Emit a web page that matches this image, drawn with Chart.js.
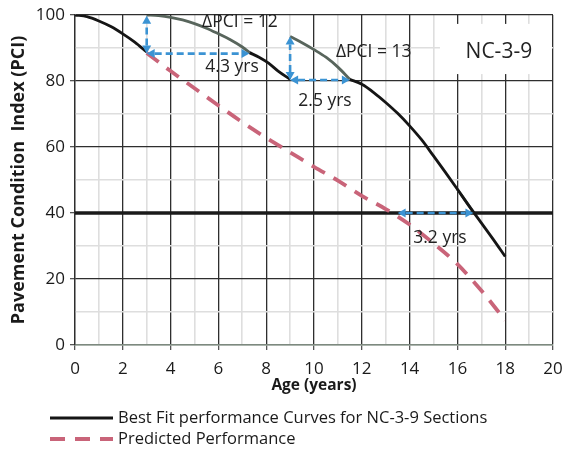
<!DOCTYPE html>
<html>
<head>
<meta charset="utf-8">
<title>NC-3-9 Pavement Condition</title>
<script src="https://cdn.jsdelivr.net/npm/chart.js@4.4.1/dist/chart.umd.min.js"></script>
<style>
  html, body { margin: 0; padding: 0; background: #fff; }
  #chartBox { width: 564px; height: 449px; }
</style>
</head>
<body>
<div id="chartBox"><canvas id="pciChart"></canvas></div>
<script>
// Best fit curve, broken where the treatment resets it (null = gap)
const bestFitAge = [0, 0.5, 1, 1.5, 2, 2.5, 3, 3, 7.3, 7.7, 8.1, 8.5, 9, 9, 11.5, 12, 12.5, 13, 13.5, 14, 14.5, 15, 15.5, 16, 16.5, 17, 17.5, 18];
const bestFitPci = [100, 99.5, 98.2, 96.5, 94.3, 91.8, 88.8, null, 88.6, 87.2, 85.4, 83, 80.5, null, 80.5, 79, 76.5, 73.5, 70.2, 66.4, 62.2, 57.3, 52.3, 47.2, 42, 37, 32, 26.8];

// Shifted portions of the curve after each treatment
const shiftedAge = [3, 3.5, 4, 4.5, 5, 5.5, 6, 6.5, 7, 7.3, 7.3, 9, 9.5, 10, 10.5, 11, 11.5, 11.5, 16, 16.33, 16.67];
const shiftedPci = [100, 99.8, 99.3, 98.5, 97.4, 96, 94.3, 92.5, 90.3, 88.6, null, 93.5, 91.6, 89.5, 87.2, 84.2, 80.5, null, 47.2, 43.8, 40.3];

const predictedAge = [3, 4, 5, 6, 7, 8, 9, 10, 11, 12, 13, 14, 15, 16, 17, 18];
const predictedPci = [88.5, 83, 77.8, 72.6, 67.5, 62.8, 58.4, 54, 49.8, 45.2, 41.2, 36.5, 30.8, 24.5, 16.5, 7.5];

const thresholdAge = [0, 20];
const thresholdPci = [40, 40];

// [age1, pci1, age2, pci2] for each double-headed arrow
const gainArrows = [
    [3, 88.3, 3, 99.8],
    [3, 88.3, 7.3, 88.3],
    [9, 80.3, 9, 93.5],
    [9, 80.3, 11.5, 80.3],
    [13.5, 40, 16.67, 40]
];

const noteText = ['\u0394PCI = 12', '4.3 yrs', '\u0394PCI = 13', '2.5 yrs', '3.2 yrs'];
const noteAge = [6.9, 6.57, 12.5, 10.46, 15.27];
const notePci = [97.9, 84.2, 88.75, 73.9, 32.5];

const sectionName = 'NC-3-9';
const sectionBoxAge = [15.27, 20];
const sectionBoxPci = [82.1, 97.3];

const legendLabels = ['Best Fit performance Curves for NC-3-9 Sections', 'Predicted Performance'];

function toPoints(xs, ys) {
    return xs.map(function (x, i) { return { x: x, y: ys[i] }; });
}

function drawArrow(ctx, x1, y1, x2, y2) {
    const ang = Math.atan2(y2 - y1, x2 - x1);
    const head = 8;
    const half = 4.5;
    const cos = Math.cos(ang), sin = Math.sin(ang);
    ctx.setLineDash([7, 4]);
    ctx.beginPath();
    ctx.moveTo(x1 + cos * head, y1 + sin * head);
    ctx.lineTo(x2 - cos * head, y2 - sin * head);
    ctx.stroke();
    ctx.setLineDash([]);
    [[x2, y2, cos, sin], [x1, y1, -cos, -sin]].forEach(function (h) {
        const px = h[0], py = h[1], c = h[2], s = h[3];
        ctx.beginPath();
        ctx.moveTo(px, py);
        ctx.lineTo(px - head * c + half * s, py - head * s - half * c);
        ctx.lineTo(px - head * c - half * s, py - head * s + half * c);
        ctx.closePath();
        ctx.fill();
    });
}

const pciExtras = {
    id: 'pciExtras',
    beforeDatasetsDraw: function (chart) {
        const ctx = chart.ctx;
        const xs = chart.scales.x, ys = chart.scales.y;
        // white panel behind the section name
        const left = xs.getPixelForValue(sectionBoxAge[0]);
        const right = xs.getPixelForValue(sectionBoxAge[1]) - 1;
        const top = ys.getPixelForValue(sectionBoxPci[1]);
        const bottom = ys.getPixelForValue(sectionBoxPci[0]);
        ctx.save();
        ctx.fillStyle = '#ffffff';
        ctx.fillRect(left, top, right - left, bottom - top);
        ctx.restore();
    },
    afterDatasetsDraw: function (chart) {
        const ctx = chart.ctx;
        const xs = chart.scales.x, ys = chart.scales.y;
        ctx.save();
        ctx.strokeStyle = '#3b93d3';
        ctx.fillStyle = '#3b93d3';
        ctx.lineWidth = 2.6;
        gainArrows.forEach(function (a) {
            drawArrow(ctx,
                xs.getPixelForValue(a[0]), ys.getPixelForValue(a[1]),
                xs.getPixelForValue(a[2]), ys.getPixelForValue(a[3]));
        });

        ctx.fillStyle = '#222222';
        ctx.textAlign = 'center';
        ctx.textBaseline = 'middle';
        ctx.font = '17.5px "Open Sans"';
        noteText.forEach(function (t, i) {
            ctx.fillText(t, xs.getPixelForValue(noteAge[i]), ys.getPixelForValue(notePci[i]));
        });

        ctx.font = '21px "Open Sans"';
        ctx.fillText(sectionName,
            xs.getPixelForValue((sectionBoxAge[0] + sectionBoxAge[1]) / 2 + 0.1),
            ys.getPixelForValue((sectionBoxPci[0] + sectionBoxPci[1]) / 2 - 1));
        ctx.restore();
    },
    afterDraw: function (chart) {
        const ctx = chart.ctx;
        const area = chart.chartArea;
        ctx.save();
        ctx.font = '16.5px "Open Sans"';
        ctx.textBaseline = 'middle';
        ctx.textAlign = 'left';
        legendLabels.forEach(function (label, i) {
            const ds = chart.data.datasets.find(function (d) { return d.label === label; });
            const y = area.bottom + 73 + i * 21;
            ctx.strokeStyle = ds.borderColor;
            ctx.lineWidth = ds.borderWidth;
            ctx.setLineDash(ds.borderDash || []);
            ctx.beginPath();
            ctx.moveTo(50, y);
            ctx.lineTo(113, y);
            ctx.stroke();
            ctx.setLineDash([]);
            ctx.fillStyle = '#1a1a1a';
            ctx.fillText(label, 118, y);
        });
        ctx.restore();
    }
};

document.addEventListener('DOMContentLoaded', function () {
    const ctx = document.getElementById('pciChart').getContext('2d');
    const pciChart = new Chart(ctx, {
        type: 'line',
        data: {
            datasets: [{
                    label: legendLabels[0],
                    data: toPoints(bestFitAge, bestFitPci),
                    borderColor: '#151515',
                    borderWidth: 2.8,
                    pointRadius: 0,
                    cubicInterpolationMode: 'monotone',
                    spanGaps: false,
                    fill: false
                }, {
                    label: 'Shifted curve',
                    data: toPoints(shiftedAge, shiftedPci),
                    borderColor: '#58655c',
                    borderWidth: 2.8,
                    pointRadius: 0,
                    cubicInterpolationMode: 'monotone',
                    spanGaps: false,
                    fill: false
                }, {
                    label: legendLabels[1],
                    data: toPoints(predictedAge, predictedPci),
                    borderColor: '#c96479',
                    borderWidth: 3.8,
                    borderDash: [15, 10],
                    pointRadius: 0,
                    cubicInterpolationMode: 'monotone',
                    fill: false
                }, {
                    label: 'PCI 40',
                    data: toPoints(thresholdAge, thresholdPci),
                    borderColor: '#1a1a1a',
                    borderWidth: 3.5,
                    pointRadius: 0,
                    fill: false
                }
            ]
        },
        options: {
            responsive: true,
            maintainAspectRatio: false,
            animation: false,
            devicePixelRatio: 1,
            layout: {
                padding: { top: 15, right: 11, bottom: 52, left: 0 }
            },
            plugins: {
                legend: { display: false },
                tooltip: { enabled: false }
            },
            scales: {
                x: {
                    type: 'linear',
                    min: 0,
                    max: 20,
                    afterFit: function (scale) {
                        scale.height = 52;
                        // the end labels may hang over the plot edge
                        scale.paddingLeft = 0;
                        scale.paddingRight = 0;
                    },
                    ticks: {
                        stepSize: 1,
                        autoSkip: false,
                        maxRotation: 0,
                        padding: 9,
                        color: '#1a1a1a',
                        font: { family: '"Open Sans"', size: 17 },
                        callback: function (v) { return v % 2 === 0 ? v : ''; }
                    },
                    grid: {
                        color: function (c) { return c.tick.value % 2 === 0 ? '#2e2e2e' : '#dedede'; },
                        lineWidth: function (c) { return c.tick.value % 2 === 0 ? 1.3 : 1.6; },
                        tickColor: function (c) { return c.tick.value % 2 === 0 ? '#555555' : 'rgba(0,0,0,0)'; },
                        tickLength: 5
                    },
                    border: { color: '#7d897f', width: 1.5 },
                    title: {
                        display: true,
                        text: 'Age (years)',
                        color: '#1a1a1a',
                        font: { family: '"Open Sans"', size: 15.5, weight: 'bold' },
                        padding: { top: 0, bottom: 2 }
                    }
                },
                y: {
                    min: 0,
                    max: 100,
                    afterFit: function (scale) {
                        scale.width = 75;
                        scale.paddingTop = 0;
                        scale.paddingBottom = 0;
                    },
                    ticks: {
                        stepSize: 10,
                        padding: 5,
                        color: '#1a1a1a',
                        font: { family: '"Open Sans"', size: 17 },
                        callback: function (v) { return v % 20 === 0 ? v : ''; }
                    },
                    grid: {
                        color: function (c) {
                            if (c.tick.value === 0) return '#7d897f';
                            return c.tick.value % 20 === 0 ? '#2e2e2e' : '#dedede';
                        },
                        lineWidth: function (c) { return c.tick.value % 20 === 0 ? 1.3 : 1.6; },
                        tickColor: function (c) { return c.tick.value % 20 === 0 ? '#555555' : 'rgba(0,0,0,0)'; },
                        tickLength: 5
                    },
                    border: { color: '#2e2e2e', width: 1.3 },
                    title: {
                        display: true,
                        text: 'Pavement Condition  Index (PCI)',
                        color: '#1a1a1a',
                        font: { family: '"Open Sans"', size: 18, weight: 'bold' },
                        padding: { top: 8, bottom: 0 }
                    }
                }
            }
        },
        plugins: [pciExtras]
    });
});
</script>
</body>
</html>
